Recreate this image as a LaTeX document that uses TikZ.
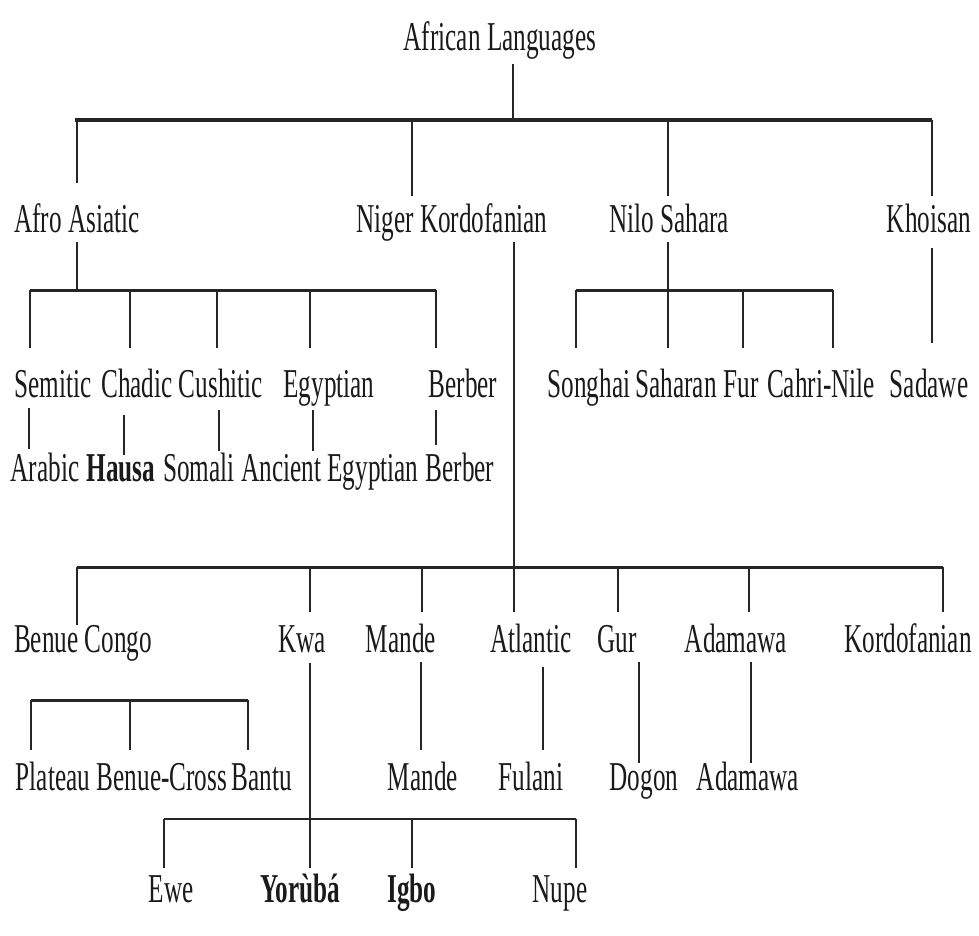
\documentclass[tikz,border=0pt]{standalone}
\usepackage{fontspec}
\setmainfont[FakeStretch=0.615]{Liberation Serif}
\definecolor{ln}{HTML}{262626}
\definecolor{txt}{HTML}{1A1A1A}
\newcommand\labfont{\fontsize{41}{48}\selectfont}
\tikzset{
  lab/.style={font=\labfont, anchor=base, inner sep=0pt, text=txt},
  barline/.style={line width=3pt, draw=ln},
  thinbar/.style={line width=2pt, draw=ln},
  dropline/.style={line width=1.4pt, draw=ln},
  subline/.style={line width=2pt, draw=ln}
}
\begin{document}
\begin{tikzpicture}[x=1pt,y=-1pt]
\useasboundingbox (0,0) rectangle (979,935);
% ---------- labels ----------
\node[lab] (root) at (500,50) {African Languages};
\node[lab] (afro) at (77,232) {Afro Asiatic};
\node[lab] (nk) at (452,232) {Niger Kordofanian};
\node[lab] (nilo) at (669,232) {Nilo Sahara};
\node[lab] (khoi) at (929,232) {Khoisan};
\node[lab] (sem) at (53,397) {Semitic};
\node[lab] (chad) at (137,397) {Chadic};
\node[lab] (cush) at (221,397) {Cushitic};
\node[lab] (egy) at (329,397) {Egyptian};
\node[lab] (berb) at (463,397) {Berber};
\node[lab] (arab) at (45,481) {Arabic};
\node[lab] (hausa) at (121,481) {\textbf{Hausa}};
\node[lab] (soma) at (199,481) {Somali};
\node[lab] (anc) at (330,481) {Ancient Egyptian};
\node[lab] (berb2) at (460,481) {Berber};
\node[lab] (song) at (589,397) {Songhai};
\node[lab] (sahar) at (676,397) {Saharan};
\node[lab] (fur) at (741,397) {Fur};
\node[lab] (cahri) at (821,397) {Cahri-Nile};
\node[lab] (sada) at (929,397) {Sadawe};
\node[lab] (bc) at (83,652) {Benue Congo};
\node[lab] (kwa) at (302,652) {Kwa};
\node[lab] (mande) at (401,652) {Mande};
\node[lab] (atl) at (531,652) {Atlantic};
\node[lab] (gur) at (617,652) {Gur};
\node[lab] (adam) at (736,652) {Adamawa};
\node[lab] (kord) at (908,652) {Kordofanian};
\node[lab] (plat) at (53,790) {Plateau};
\node[lab] (bcross) at (162,790) {Benue-Cross};
\node[lab] (bantu) at (262,790) {Bantu};
\node[lab] (mande2) at (423,790) {Mande};
\node[lab] (fulani) at (531,790) {Fulani};
\node[lab] (dogon) at (644,790) {Dogon};
\node[lab] (adam2) at (748,790) {Adamawa};
\node[lab] (ewe) at (171,902) {Ewe};
\node[lab] (yor) at (300,902) {\textbf{Yorùbá}};
\node[lab] (igbo) at (412,902) {\textbf{Igbo}};
\node[lab] (nupe) at (560,902) {Nupe};
% ---------- coordinates ----------
% root
\coordinate (r0) at (513,64);  \coordinate (r1) at (513,120);
\coordinate (tL) at (75,120);  \coordinate (tR) at (932,120);
\coordinate (t1) at (77,120);  \coordinate (t1e) at (77,183);
\coordinate (t2) at (412,120); \coordinate (t2e) at (412,196);
\coordinate (t3) at (668,120); \coordinate (t3e) at (668,196);
\coordinate (t4e) at (932,196);
% afro asiatic
\coordinate (a0) at (77,242); \coordinate (a1) at (77,290);
\coordinate (aL) at (30,290); \coordinate (aR) at (436,290);
\coordinate (aLe) at (30,348);
\coordinate (a2) at (130,290); \coordinate (a2e) at (130,348);
\coordinate (a3) at (217,290); \coordinate (a3e) at (217,348);
\coordinate (a4) at (310,290); \coordinate (a4e) at (310,348);
\coordinate (aRe) at (436,348);
% afro sub
\coordinate (s1a) at (29,408); \coordinate (s1b) at (29,449);
\coordinate (s2a) at (124,415); \coordinate (s2b) at (124,455);
\coordinate (s3a) at (219,410); \coordinate (s3b) at (219,451);
\coordinate (s4a) at (313,410); \coordinate (s4b) at (313,451);
\coordinate (s5a) at (436,410); \coordinate (s5b) at (436,445);
% nilo sahara
\coordinate (n0) at (668,242); \coordinate (n1) at (668,290);
\coordinate (nL) at (576,290); \coordinate (nR) at (833,290);
\coordinate (nLe) at (576,348); \coordinate (n1e) at (668,348);
\coordinate (n3) at (743,290); \coordinate (n3e) at (743,348);
\coordinate (nRe) at (833,348);
% khoisan
\coordinate (k0) at (932,248); \coordinate (k1) at (932,343);
% niger kordofanian
\coordinate (g0) at (514,242); \coordinate (g1) at (514,567);
\coordinate (gL) at (77,567); \coordinate (gR) at (943,567);
\coordinate (gLe) at (77,625);
\coordinate (g2) at (310,567); \coordinate (g2e) at (310,612);
\coordinate (g3) at (422,567); \coordinate (g3e) at (422,612);
\coordinate (g4e) at (514,612);
\coordinate (g5) at (618,567); \coordinate (g5e) at (618,612);
\coordinate (g6) at (749,567); \coordinate (g6e) at (749,612);
\coordinate (gRe) at (943,612);
% benue congo
\coordinate (bL) at (31,700); \coordinate (bR) at (248,700);
\coordinate (bLe) at (31,750);
\coordinate (b2) at (130,700); \coordinate (b2e) at (130,750);
\coordinate (bRe) at (248,750);
% kwa
\coordinate (w0) at (310,663); \coordinate (w1e) at (310,868);
\coordinate (wL) at (164,819); \coordinate (wR) at (576,819);
\coordinate (wLe) at (164,868);
\coordinate (w3) at (412,819); \coordinate (w3e) at (412,868);
\coordinate (wRe) at (576,868);
% single descents
\coordinate (m0) at (421,662); \coordinate (m1) at (421,750);
\coordinate (at0) at (543,667); \coordinate (at1) at (543,750);
\coordinate (gu0) at (639,662); \coordinate (gu1) at (639,763);
\coordinate (ad0) at (751,662); \coordinate (ad1) at (751,763);
% ---------- connectors ----------
\draw[dropline] (r0) -- (r1);
\draw[barline, line width=3.5pt] (tL) -- (tR);
\draw[dropline] (t1) -- (t1e);
\draw[dropline] (t2) -- (t2e);
\draw[dropline] (t3) -- (t3e);
\draw[dropline] (tR) -- (t4e);

\draw[dropline] (a0) -- (a1);
\draw[barline] (aL) -- (aR);
\draw[dropline] (aL) -- (aLe);
\draw[dropline] (a2) -- (a2e);
\draw[dropline] (a3) -- (a3e);
\draw[dropline] (a4) -- (a4e);
\draw[dropline] (aR) -- (aRe);

\draw[subline] (s1a) -- (s1b);
\draw[subline] (s2a) -- (s2b);
\draw[subline] (s3a) -- (s3b);
\draw[subline] (s4a) -- (s4b);
\draw[subline] (s5a) -- (s5b);

\draw[dropline] (n0) -- (n1);
\draw[barline] (nL) -- (nR);
\draw[dropline] (nL) -- (nLe);
\draw[dropline] (n1) -- (n1e);
\draw[dropline] (n3) -- (n3e);
\draw[dropline] (nR) -- (nRe);

\draw[dropline] (k0) -- (k1);

\draw[dropline] (g0) -- (g1);
\draw[barline] (gL) -- (gR);
\draw[dropline] (gL) -- (gLe);
\draw[dropline] (g2) -- (g2e);
\draw[dropline] (g3) -- (g3e);
\draw[dropline] (g1) -- (g4e);
\draw[dropline] (g5) -- (g5e);
\draw[dropline] (g6) -- (g6e);
\draw[dropline] (gR) -- (gRe);

\draw[barline] (bL) -- (bR);
\draw[dropline] (bL) -- (bLe);
\draw[dropline] (b2) -- (b2e);
\draw[dropline] (bR) -- (bRe);

\draw[dropline] (w0) -- (w1e);
\draw[thinbar] (wL) -- (wR);
\draw[dropline] (wL) -- (wLe);
\draw[dropline] (w3) -- (w3e);
\draw[dropline] (wR) -- (wRe);

\draw[dropline] (m0) -- (m1);
\draw[dropline] (at0) -- (at1);
\draw[dropline] (gu0) -- (gu1);
\draw[dropline] (ad0) -- (ad1);
\end{tikzpicture}
\end{document}
